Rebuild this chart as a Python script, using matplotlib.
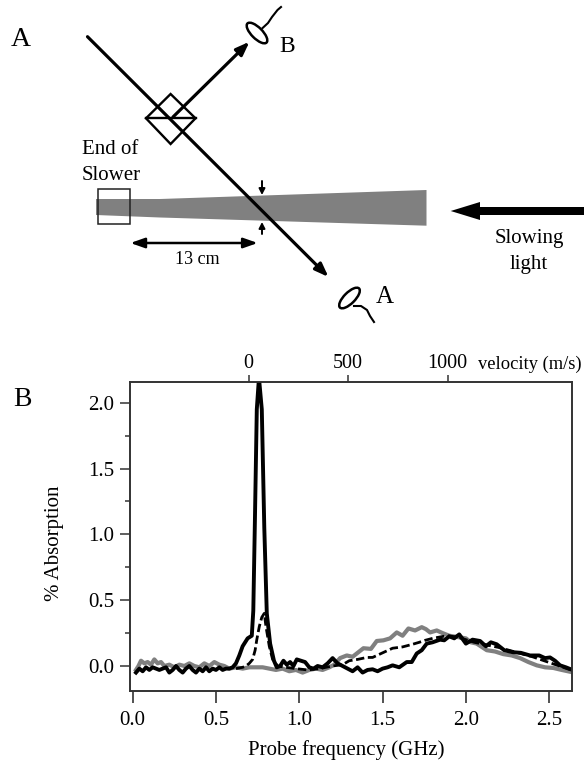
import matplotlib
matplotlib.use('Agg')
import matplotlib.pyplot as plt
from matplotlib.patches import Ellipse, Polygon, Rectangle

plt.rcParams['font.family'] = ['Liberation Serif', 'DejaVu Serif']

# trace data
black_x = [0.02, 0.04, 0.06, 0.08, 0.10, 0.12, 0.14, 0.16, 0.18, 0.20, 0.22, 0.24, 0.26, 0.28, 0.30,
           0.32, 0.34, 0.36, 0.38, 0.40, 0.42, 0.44, 0.46, 0.48, 0.50, 0.52, 0.54, 0.56, 0.58, 0.60,
           0.62, 0.64, 0.66, 0.69, 0.715, 0.724, 0.734, 0.745, 0.758, 0.775, 0.79, 0.805, 0.825, 0.848,
           0.865, 0.885, 0.905, 0.925, 0.945, 0.965, 0.985, 1.01, 1.035, 1.06, 1.085, 1.11, 1.14, 1.17,
           1.20, 1.23, 1.26, 1.29, 1.32, 1.35, 1.38, 1.41, 1.44, 1.47, 1.50, 1.53, 1.56, 1.60, 1.645,
           1.675, 1.705, 1.735, 1.765, 1.80, 1.845, 1.87, 1.90, 1.93, 1.96, 2.0, 2.04, 2.085, 2.12,
           2.15, 2.185, 2.23, 2.28, 2.33, 2.385, 2.44, 2.475, 2.505, 2.535, 2.565, 2.60, 2.63]
black_y = [-0.05, -0.02, -0.04, -0.01, -0.03, -0.01, -0.02, -0.03, -0.02, -0.01, -0.05, -0.03, 0.00, -0.03, -0.05,
           -0.02, 0.00, -0.03, -0.05, -0.02, -0.04, -0.01, -0.04, -0.02, -0.03, -0.01, -0.03, -0.02, -0.02, -0.01,
           0.02, 0.08, 0.15, 0.21, 0.23, 0.42, 1.13, 1.95, 2.19, 1.95, 1.05, 0.40, 0.17, 0.04,
           -0.01, 0.00, 0.04, 0.01, 0.03, 0.00, 0.05, 0.04, 0.03, -0.01, -0.02, 0.00, -0.01, 0.02,
           0.06, 0.02, 0.00, -0.02, -0.04, -0.01, -0.05, -0.03, -0.025, -0.04, -0.02, -0.01, 0.005, -0.01, 0.03,
           0.03, 0.095, 0.12, 0.17, 0.18, 0.20, 0.195, 0.225, 0.21, 0.24, 0.17, 0.20, 0.19, 0.15,
           0.18, 0.165, 0.12, 0.105, 0.10, 0.08, 0.08, 0.06, 0.065, 0.04, 0.005, -0.01, -0.025]

gray_x = [0.02, 0.035, 0.05, 0.07, 0.09, 0.11, 0.13, 0.15, 0.17, 0.19, 0.22, 0.25, 0.28, 0.31, 0.34,
          0.37, 0.40, 0.43, 0.46, 0.49, 0.52, 0.55, 0.58, 0.62, 0.66, 0.70, 0.74, 0.78, 0.82, 0.86,
          0.90, 0.94, 0.98, 1.02, 1.06, 1.10, 1.14, 1.18, 1.21, 1.245, 1.285, 1.32, 1.385, 1.43, 1.465,
          1.505, 1.545, 1.585, 1.62, 1.655, 1.695, 1.735, 1.76, 1.785, 1.825, 1.86, 1.90, 2.0, 2.03,
          2.065, 2.125, 2.175, 2.225, 2.275, 2.325, 2.375, 2.425, 2.475, 2.525, 2.575, 2.63]
gray_y = [-0.03, 0.00, 0.04, 0.02, 0.03, 0.01, 0.05, 0.02, 0.03, 0.00, 0.01, -0.01, 0.01, 0.00, 0.02,
          0.00, -0.01, 0.02, 0.00, 0.03, 0.01, 0.00, -0.02, -0.01, -0.02, -0.01, -0.01, -0.01, -0.02, -0.03,
          -0.02, -0.04, -0.03, -0.05, -0.03, -0.02, -0.03, -0.01, 0.01, 0.06, 0.08, 0.07, 0.135, 0.13, 0.19,
          0.195, 0.21, 0.255, 0.23, 0.285, 0.27, 0.295, 0.28, 0.255, 0.27, 0.25, 0.23, 0.21, 0.18,
          0.17, 0.12, 0.11, 0.09, 0.08, 0.06, 0.03, 0.005, -0.01, -0.015, -0.03, -0.045]

dash_x = [0.62, 0.66, 0.68, 0.70, 0.72, 0.735, 0.745, 0.76, 0.775, 0.79, 0.80, 0.82, 0.84, 0.87,
          0.92, 0.98, 1.05, 1.12, 1.20, 1.26, 1.30, 1.35, 1.405, 1.44, 1.50, 1.56, 1.62, 1.68, 1.72,
          1.755, 1.80, 1.885, 1.95, 2.05, 2.2, 2.4, 2.63]
dash_y = [-0.02, -0.01, 0.00, 0.02, 0.05, 0.12, 0.20, 0.30, 0.37, 0.40, 0.30, 0.15, 0.05, 0.00,
          -0.01, -0.02, -0.03, -0.02, 0.00, 0.01, 0.04, 0.05, 0.065, 0.065, 0.10, 0.135, 0.145, 0.165, 0.18,
          0.195, 0.21, 0.23, 0.22, 0.18, 0.14, 0.07, -0.03]

freq_ticks = [0.0, 0.5, 1.0, 1.5, 2.0, 2.5]
absorb_ticks = [0.0, 0.5, 1.0, 1.5, 2.0]
absorb_minor = [0.25, 0.75, 1.25, 1.75]
velocity_ticks = [0, 500, 1000]

# diagram outlines, in picture pixels
taper_beam = [(96, 199), (160, 199), (426.5, 190), (426.5, 225.7), (160, 217.5), (96, 215)]
cube = [(146, 118.3), (170.6, 94), (195.5, 118.3), (170.6, 144)]
wire_b = [(262.6, 28), (268, 23), (272, 17), (277.5, 10), (281, 7)]
wire_a = [(354, 306), (361, 306), (367, 310), (370, 316), (374, 322)]

fig = plt.figure(figsize=(5.84, 7.64), dpi=100)
W, H = 584.0, 764.0

# plot panel
ax = fig.add_axes([130 / W, 1 - 691 / H, (571.7 - 130) / W, (691 - 381.7) / H])
ax.plot(gray_x, gray_y, color='#808080', lw=3, zorder=2)
ax.plot(dash_x, dash_y, color='black', lw=2, ls=(0, (3, 1.3)), zorder=3)
ax.plot(black_x, black_y, color='black', lw=2.8, zorder=4)
ax.set_xlim(-0.016, 2.635)
ax.set_ylim(-0.19, 2.16)
ax.set_xticks(freq_ticks)
ax.set_xticklabels(['%.1f' % t for t in freq_ticks])
ax.set_yticks(absorb_ticks)
ax.set_yticklabels(['%.1f' % t for t in absorb_ticks])
ax.set_yticks(absorb_minor, minor=True)
ax.tick_params(axis='x', length=8.5, width=1.2, labelsize=15, pad=6, color='#333333')
ax.tick_params(axis='y', which='major', length=7.5, width=1.1, labelsize=15, pad=4, color='#333333')
ax.tick_params(axis='y', which='minor', length=3.6, width=1.1, color='#333333')
for side in ax.spines.values():
    side.set_linewidth(1.2)
    side.set_color('#333333')

# velocity scale on top
top = ax.twiny()
top.set_xlim(-596, 1623)
top.set_xticks(velocity_ticks)
top.set_xticklabels([str(v) for v in velocity_ticks])
top.tick_params(axis='x', length=5, width=1.1, labelsize=14.5, pad=1.5, color='#333333')
for side in top.spines.values():
    side.set_linewidth(1.2)
    side.set_color('#333333')

# full figure overlay in pixel coordinates for the diagram and free text
d = fig.add_axes([0, 0, 1, 1])
d.set_xlim(0, W)
d.set_ylim(H, 0)
d.axis('off')
d.patch.set_alpha(0)

d.add_patch(Polygon(taper_beam, closed=True, fc='#808080', ec='none', zorder=1))
d.add_patch(Rectangle((97.6, 189), 32.8, 35, fc='none', ec='#222222', lw=1.1, zorder=2))
d.add_patch(Polygon(cube, closed=True, fc='none', ec='black', lw=1.7, zorder=3))
d.plot([146, 195.5], [118.3, 118.3], color='black', lw=1.7, zorder=3)

d.annotate('', xy=(328.5, 277), xytext=(87.5, 36.7),
           arrowprops=dict(arrowstyle='-|>,head_length=0.8,head_width=0.3', lw=2.3, color='black', shrinkA=0, shrinkB=0), zorder=4)
d.annotate('', xy=(249.5, 41.7), xytext=(173, 117),
           arrowprops=dict(arrowstyle='-|>,head_length=0.8,head_width=0.3', lw=2.3, color='black', shrinkA=0, shrinkB=0), zorder=4)
d.annotate('', xy=(130.4, 243), xytext=(257.7, 243),
           arrowprops=dict(arrowstyle='<|-|>,head_length=0.85,head_width=0.3', lw=1.8, color='black', shrinkA=0, shrinkB=0))
d.annotate('', xy=(262, 195), xytext=(262, 181),
           arrowprops=dict(arrowstyle='-|>,head_length=0.35,head_width=0.18', lw=1.4, color='black', shrinkA=0, shrinkB=0))
d.annotate('', xy=(262, 222), xytext=(262, 234),
           arrowprops=dict(arrowstyle='-|>,head_length=0.35,head_width=0.18', lw=1.4, color='black', shrinkA=0, shrinkB=0))

# slowing light arrow
d.add_patch(Polygon([(450.7, 211), (480, 202), (480, 207), (584, 207), (584, 215), (480, 215), (480, 220)],
                    closed=True, fc='black', ec='none'))

# detectors
d.add_patch(Ellipse((257, 33), 27, 11, angle=45, fc='white', ec='black', lw=1.8))
d.add_patch(Ellipse((349.5, 298), 27, 11, angle=-45, fc='white', ec='black', lw=1.8))
d.plot([p[0] for p in wire_b], [p[1] for p in wire_b], color='black', lw=1.5)
d.plot([p[0] for p in wire_a], [p[1] for p in wire_a], color='black', lw=1.5)

d.text(20.5, 39, 'A', fontsize=20, ha='center', va='center')
d.text(22, 399, 'B', fontsize=20, ha='center', va='center')
d.text(287, 46, 'B', fontsize=17, ha='center', va='center')
d.text(385, 297, 'A', fontsize=18, ha='center', va='center')
d.text(82, 150, 'End of', fontsize=15, ha='left', va='center')
d.text(82, 176, 'Slower', fontsize=15, ha='left', va='center')
d.text(197, 259, '13 cm', fontsize=13, ha='center', va='center')
d.text(529, 239, 'Slowing', fontsize=15, ha='center', va='center')
d.text(529, 264, 'light', fontsize=15, ha='center', va='center')
d.text(530, 364, 'velocity (m/s)', fontsize=13.3, ha='center', va='center')
d.text(346, 750, 'Probe frequency (GHz)', fontsize=15, ha='center', va='center')
d.text(55, 543, '% Absorption', fontsize=15, rotation=90, ha='center', va='center')

fig.savefig('out.png', dpi=100)
